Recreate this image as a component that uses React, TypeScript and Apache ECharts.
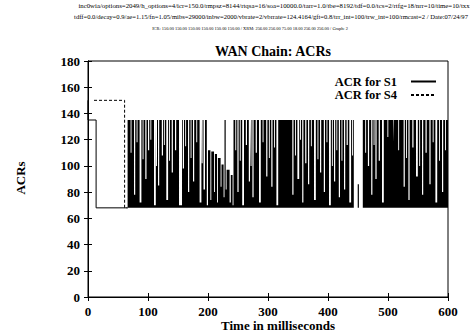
import React, { useEffect, useRef } from "react";
import * as echarts from "echarts";

const chartTitle = "WAN Chain: ACRs";
const headerLines = [
  "inc0wia/options=2049/h_options=4/icr=150.0/rmpsz=8144/rtqsa=16/soa=10000.0/tarr=1.0/tbe=8192/tdf=0.0/tcs=2/rtfg=18/nrr=10/time=10/txx",
  "tdff=0.0/decay=0.9/ae=1.15/fn=1.05/mibs=29000/inbw=2000/vbrate=2/vbrrate=124.4164/gft=0.8/trr_int=100/trw_int=100/rmcast=2 / Date:07/24/97",
  "ICR: 150.00 150.00 150.00 150.00 150.00 150.00 / XRM: 256.00 256.00 75.00 18.00 256.00 256.00 / Graph: 2",
];
const xAxisName = "Time in milliseconds";
const yAxisName = "ACRs";
const xTicks = [0, 100, 200, 300, 400, 500, 600];
const yTicks = [0, 20, 40, 60, 80, 100, 120, 140, 160, 180];

// ACR for S1 (start-up part, outline)
const s1Time = [0, 0, 13.5, 13.5, 66];
const s1Value = [150, 135, 135, 68, 68];
// ACR for S4 (start-up part, dashed)
const s4Time = [10, 61, 61, 66];
const s4Value = [150, 150, 68, 68];

// Dense oscillation between 68 and 135: drawn as its envelope
const denseFrom = 66;
const denseTo = 600;
const denseTop = 135;
const denseBase = 68;
// dips in the envelope (white stripes): start (ms), width (ms), lowest value
const gapStart = [
  71, 76.7, 81, 86, 91, 95.5, 100, 104, 110, 113.5, 116.7, 123, 126.5, 130.5, 135, 139.5, 145, 151.7, 158, 162, 166.7, 171, 175, 180.5, 186, 189.5, 192.5,
  245.5, 249, 253, 257, 263, 268, 271, 274, 279.5, 285, 291, 297, 301.5, 305.5, 310, 314,
  340.5, 345, 349, 353.5, 357, 362, 366.7, 371.5, 376.7, 382.5, 386.7, 393, 397.5, 401.7, 406.5, 410, 414, 418, 422.5, 426.7, 431, 435.5, 440,
  462, 466.5, 472, 476, 479, 484.5, 490, 499, 509, 517, 526, 530, 534, 540.5, 546.7, 552, 556.7, 562.5, 569, 574.5, 579, 585, 590, 595,
];
const gapWidth = [
  1.5, 2, 1.5, 3, 1.5, 2, 2, 1.5, 3, 1.5, 2, 2, 1.5, 3, 1.5, 2, 2, 5, 2, 1.5, 2, 1.5, 2, 1.5, 3, 1.5, 2.5,
  1.5, 2, 1.5, 3, 2, 2, 1.5, 2, 2, 3, 1.5, 2, 1.5, 2, 1.5, 3,
  2, 1.5, 3, 1.5, 2, 2, 2, 1.5, 3, 1.5, 2, 2, 1.5, 3, 1.5, 2, 1.5, 2, 1.5, 2, 2, 3, 1.5,
  1.5, 2, 2, 1.5, 2, 2, 3, 1.5, 1, 1.5, 2, 1.5, 2, 2, 3, 1.5, 2, 2, 2, 1.5, 3, 1.5, 2, 1.5,
];
const gapDepth = [
  110, 78, 118, 72, 105, 90, 112, 120, 70, 100, 85, 108, 116, 74, 104, 95, 112, 70, 98, 115, 80, 106, 88, 118, 72, 102, 82,
  112, 80, 104, 70, 116, 88, 100, 76, 110, 72, 118, 92, 106, 84, 114, 70,
  78, 108, 90, 120, 72, 102, 86, 115, 74, 105, 95, 80, 118, 70, 100, 88, 112, 76, 104, 82, 116, 72, 108,
  110, 100, 78, 116, 90, 104, 72, 122, 118, 112, 84, 106, 74, 114, 92, 100, 78, 110, 86, 118, 72, 104, 80, 112,
];
// section with lower peaks (about 198-243 ms)
const lowTime = [
  198, 198, 200, 200, 204, 204, 205.5, 205.5, 210, 210, 211.5, 211.5, 215, 215, 216.5, 216.5,
  221, 221, 222.5, 222.5, 226, 226, 227.5, 227.5, 229.5, 229.5, 231, 231, 236, 236, 238, 238,
  241, 241, 242.5, 242.5,
];
const lowValue = [
  135, 70, 70, 112, 112, 74, 74, 111, 111, 80, 80, 109, 109, 72, 72, 106,
  106, 84, 84, 101, 101, 76, 76, 135, 135, 82, 82, 97, 97, 72, 72, 93,
  93, 70, 70, 135,
];
// quiet hole (about 443-458 ms)
const holeTime = [443, 443, 449.5, 449.5, 451.5, 451.5, 458, 458];
const holeValue = [135, 68, 68, 86, 86, 68, 68, 135];

function buildDense(): number[][] {
  const segments: number[][][] = [];
  for (let i = 0; i < gapStart.length; i++) {
    const s = gapStart[i];
    const e = s + gapWidth[i];
    segments.push([
      [s, denseTop],
      [s, gapDepth[i]],
      [e, gapDepth[i]],
      [e, denseTop],
    ]);
  }
  segments.push(lowTime.map((t, i) => [t, lowValue[i]]));
  segments.push(holeTime.map((t, i) => [t, holeValue[i]]));
  segments.sort((a, b) => a[0][0] - b[0][0]);
  const pts: number[][] = [
    [denseFrom, denseBase],
    [denseFrom, denseTop],
  ];
  segments.forEach((seg) => seg.forEach((p) => pts.push(p)));
  pts.push([denseTo, denseTop]);
  pts.push([denseTo, denseBase]);
  return pts;
}

const FONT = "'Liberation Serif', 'Times New Roman', serif";

export default function App() {
  const ref = useRef<HTMLDivElement>(null);
  useEffect(() => {
    if (!ref.current) return;
    const chart = echarts.init(ref.current, null, { renderer: "svg" });
    const xMin = xTicks[0];
    const xMax = xTicks[xTicks.length - 1];
    const xInt = xTicks[1] - xTicks[0];
    const yMin = yTicks[0];
    const yMax = yTicks[yTicks.length - 1];
    const yInt = yTicks[1] - yTicks[0];
    const labelStyle = {
      color: "#000",
      fontFamily: FONT,
      fontWeight: "bold" as const,
      fontSize: 13,
    };
    const tick = { show: true, inside: true, length: 4, lineStyle: { color: "#000", width: 1 } };
    chart.setOption({
      animation: false,
      backgroundColor: "#fff",
      grid: {
        left: 88,
        right: 22,
        top: 61,
        bottom: 35,
        show: true,
        borderColor: "#000",
        borderWidth: 1,
        containLabel: false,
      },
      title: {
        text: chartTitle,
        left: 268,
        top: 39,
        textAlign: "center",
        textStyle: { fontFamily: FONT, fontWeight: "bold", fontSize: 14, color: "#000" },
      },
      graphic: [
        {
          type: "text",
          x: 274,
          y: 5,
          style: {
            text: headerLines[0],
            fontFamily: FONT,
            fontSize: 6.8,
            fill: "#000",
            align: "center",
            verticalAlign: "middle",
          },
        },
        {
          type: "text",
          x: 271,
          y: 16,
          style: {
            text: headerLines[1],
            fontFamily: FONT,
            fontSize: 6.6,
            fill: "#000",
            align: "center",
            verticalAlign: "middle",
          },
        },
        {
          type: "text",
          x: 250,
          y: 28,
          style: {
            text: headerLines[2],
            fontFamily: FONT,
            fontSize: 4.4,
            fill: "#000",
            align: "center",
            verticalAlign: "middle",
          },
        },
        {
          type: "text",
          x: 278,
          y: 325,
          style: {
            text: xAxisName,
            fontFamily: FONT,
            fontWeight: "bold",
            fontSize: 13,
            fill: "#000",
            align: "center",
            verticalAlign: "middle",
          },
        },
        {
          type: "text",
          x: 20,
          y: 178,
          rotation: Math.PI / 2,
          style: {
            text: yAxisName,
            fontFamily: FONT,
            fontWeight: "bold",
            fontSize: 13,
            fill: "#000",
            align: "center",
            verticalAlign: "middle",
          },
        },
      ],
      legend: {
        data: ["ACR for S1", "ACR for S4"],
        orient: "vertical",
        right: 33,
        top: 75,
        padding: 0,
        align: "right",
        itemWidth: 25,
        itemHeight: 12,
        itemGap: 0.5,
        itemStyle: { opacity: 0, color: "transparent", borderWidth: 0 },
        textStyle: {
          fontFamily: FONT,
          fontWeight: "bold",
          fontSize: 12.5,
          lineHeight: 11.5,
          color: "#000",
          padding: [0, 9, 0, 0],
        },
      },
      xAxis: [
        {
          type: "value",
          min: xMin,
          max: xMax,
          interval: xInt,
          axisLine: { show: true, lineStyle: { color: "#000", width: 1 } },
          axisTick: tick,
          splitLine: { show: false },
          axisLabel: { ...labelStyle, margin: 8 },
        },
        {
          type: "value",
          position: "top",
          min: xMin,
          max: xMax,
          interval: xInt,
          axisLine: { show: true, lineStyle: { color: "#000", width: 1 } },
          axisTick: tick,
          splitLine: { show: false },
          axisLabel: { show: false },
        },
      ],
      yAxis: [
        {
          type: "value",
          min: yMin,
          max: yMax,
          interval: yInt,
          axisLine: { show: true, lineStyle: { color: "#000", width: 1 } },
          axisTick: tick,
          splitLine: { show: false },
          axisLabel: { ...labelStyle, margin: 8 },
        },
        {
          type: "value",
          position: "right",
          min: yMin,
          max: yMax,
          interval: yInt,
          axisLine: { show: true, lineStyle: { color: "#000", width: 1 } },
          axisTick: tick,
          splitLine: { show: false },
          axisLabel: { show: false },
        },
      ],
      series: [
        {
          name: "ACR for S4",
          type: "line",
          data: s4Time.map((t, i) => [t, s4Value[i]]),
          symbol: "none",
          lineStyle: { color: "#000", width: 1, type: [3, 2] },
          itemStyle: { color: "#000" },
          z: 2,
        },
        {
          name: "ACR for S1",
          type: "line",
          data: s1Time.map((t, i) => [t, s1Value[i]]),
          symbol: "none",
          lineStyle: { color: "#000", width: 1 },
          itemStyle: { color: "#000" },
          z: 3,
        },
        {
          name: "dense",
          type: "line",
          data: buildDense(),
          symbol: "none",
          lineStyle: { width: 0, color: "#000" },
          areaStyle: { color: "#000", opacity: 1, origin: denseBase },
          z: 3,
        },
      ],
    });
    return () => chart.dispose();
  }, []);
  return <div ref={ref} style={{ width: 470, height: 332, position: "absolute", left: 0, top: 0 }} />;
}
